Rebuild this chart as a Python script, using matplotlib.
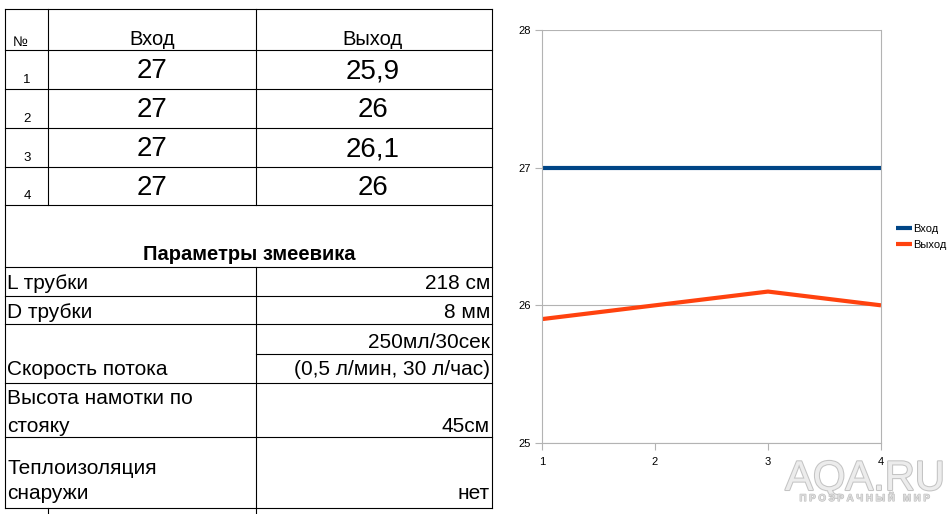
import matplotlib.pyplot as plt
import matplotlib.patheffects as pe

plt.rcParams['font.family'] = ['Liberation Sans', 'DejaVu Sans']

# measurements
points = [1, 2, 3, 4]
vhod = [27, 27, 27, 27]
vyhod = [25.9, 26, 26.1, 26]
series_names = ["Вход", "Выход"]

# coil parameters
param_title = "Параметры змеевика"
param_labels = ["L трубки", "D трубки", "Скорость потока", "Высота намотки по\nстояку", "Теплоизоляция\nснаружи"]
param_values = ["218 см", "8 мм", "250мл/30сек\n(0,5 л/мин, 30 л/час)", "45см", "нет"]

W, H = 952, 514


def fmt(v):
    s = f"{v:g}"
    return s.replace(".", ",")


fig = plt.figure(figsize=(W / 100, H / 100), dpi=100)

# ---- table (pixel coords) ----
ax0 = fig.add_axes([0, 0, 1, 1])
ax0.set_xlim(0, W)
ax0.set_ylim(H, 0)
ax0.axis("off")

lw = 0.8
xl, xc1, xc2, xr = 5, 48, 256, 492
for y in [9, 50, 89, 128, 167, 205, 267, 296, 324, 383, 437, 508]:
    ax0.plot([xl, xr], [y, y], color="black", lw=lw)
ax0.plot([xc2, xr], [354, 354], color="black", lw=lw)
ax0.plot([xl, xl], [9, 508], color="black", lw=lw)
ax0.plot([xr, xr], [9, 508], color="black", lw=lw)
ax0.plot([xc1, xc1], [9, 205], color="black", lw=lw)
ax0.plot([xc1, xc1], [508, H], color="black", lw=lw)
ax0.plot([xc2, xc2], [9, 205], color="black", lw=lw)
ax0.plot([xc2, xc2], [267, H], color="black", lw=lw)

ax0.text(20, 46, "№", fontsize=10, ha="center", va="baseline")
ax0.text(152, 45, series_names[0], fontsize=14.5, ha="center", va="baseline")
ax0.text(373, 45, series_names[1], fontsize=14.5, ha="center", va="baseline")

row_tops = [50, 89, 128, 167]
row_bots = [89, 128, 167, 205]
for i in range(len(points)):
    ax0.text(27, row_bots[i] - 6, str(points[i]), fontsize=9.5, ha="center", va="baseline")
    ax0.text(152, row_tops[i] + 28, fmt(vhod[i]), fontsize=20, ha="center", va="baseline")
    ax0.text(373, row_tops[i] + 28, fmt(vyhod[i]), fontsize=20, ha="center", va="baseline")

ax0.text(249, 260, param_title, fontsize=14.5, fontweight="bold", ha="center", va="baseline")

label_base = [289, 318, 375, 404, 474]
value_base = [289, 318, 348, 432, 499]
for i in range(len(param_labels)):
    gap = 28 if i == 3 else 25
    for j, ln in enumerate(param_labels[i].split("\n")):
        ax0.text(7, label_base[i] + j * gap, ln, fontsize=15, ha="left", va="baseline")
    for j, ln in enumerate(param_values[i].split("\n")):
        ax0.text(490, value_base[i] + j * 27, ln, fontsize=15, ha="right", va="baseline")

# watermark
ax0.text(865, 490, "AQA.RU", fontsize=30, ha="center", va="baseline", color="#ececec",
         path_effects=[pe.withStroke(linewidth=1.5, foreground="#c4c4c4")])
ax0.text(865, 501, "П Р О З Р А Ч Н Ы Й   М И Р", fontsize=7, ha="center", va="baseline",
         color="#dddddd", fontweight="bold",
         path_effects=[pe.withStroke(linewidth=0.8, foreground="#bdbdbd")])

# ---- chart ----
left, right, top, bottom = 542, 881, 30, 443
ax = fig.add_axes([left / W, 1 - bottom / H, (right - left) / W, (bottom - top) / H])
ax.plot(points, vhod, color="#004586", lw=3, label=series_names[0], solid_capstyle="butt")
ax.plot(points, vyhod, color="#ff420e", lw=3, label=series_names[1], solid_capstyle="butt")
ax.set_xlim(1, 4)
ax.set_ylim(25, 28)
ax.set_xticks(points)
ax.set_yticks([25, 26, 27, 28])
ax.grid(axis="y", color="#b3b3b3", lw=0.8)
ax.set_axisbelow(True)
for s in ax.spines.values():
    s.set_color("#b3b3b3")
    s.set_linewidth(0.8)
ax.spines["top"].set_visible(False)
ax.tick_params(colors="#b3b3b3", labelcolor="black", labelsize=8, length=5, width=0.8, pad=3)
ax.tick_params(axis="x", pad=5)

ax.legend(loc="center left", bbox_to_anchor=(1.045, 0.499), frameon=False, fontsize=8,
          handlelength=1.4, handletextpad=0.15, labelspacing=0.5, borderpad=0,
          borderaxespad=0)

fig.savefig("out.png", dpi=100)
